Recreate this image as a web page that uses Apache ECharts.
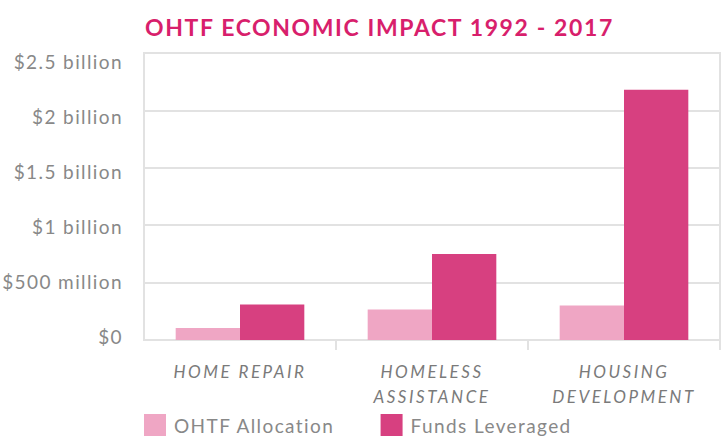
<!DOCTYPE html>
<html>
<head>
<meta charset="utf-8">
<script src="https://cdn.jsdelivr.net/npm/echarts@6/dist/echarts.min.js"></script>
<style>
html,body{margin:0;padding:0;background:#fff;}
#c{width:722px;height:440px;}
#c text{letter-spacing:1.4px;}
#c text[style*="italic"]{letter-spacing:2.5px;}
#c text[style*="bold"]{letter-spacing:1.6px;}
</style>
</head>
<body>
<div id="c"></div>
<script>
const categories = ['HOME REPAIR', 'HOMELESS\nASSISTANCE', 'HOUSING\nDEVELOPMENT'];
const ohtfAllocation = [105e6, 265e6, 300e6];
const fundsLeveraged = [310e6, 750e6, 2180e6];
const yTickValues = [0, 5e8, 1e9, 1.5e9, 2e9, 2.5e9];
const yTickLabels = ['$0', '$500 million', '$1 billion', '$1.5 billion', '$2 billion', '$2.5 billion'];

const FONT = 'Lato';
// per-label vertical nudges (style only)
const yRich = {
  t0: {padding: [0, 0, 8, 0]},
  t1: {padding: [0, 0, 3, 0]},
  t2: {padding: [2, 0, 0, 0]},
  t3: {padding: [7, 0, 0, 0]},
  t4: {padding: [12, 0, 0, 0]},
  t5: {padding: [17, 0, 0, 0]}
};
Object.keys(yRich).forEach(function (k) {
  Object.assign(yRich[k], {color: '#888', fontSize: 19, fontFamily: FONT, align: 'right'});
});

const chart = echarts.init(document.getElementById('c'), null, {renderer: 'svg'});
chart.setOption({
  animation: false,
  title: {
    text: 'OHTF ECONOMIC IMPACT 1992 - 2017',
    left: 145, top: 15, padding: 0,
    textStyle: {color: '#d81f6c', fontSize: 23, fontWeight: 'bold', fontFamily: FONT}
  },
  legend: {
    left: 144, top: 414, padding: 0,
    itemWidth: 22, itemHeight: 22, itemGap: 66,
    icon: 'rect',
    textStyle: {color: '#888', fontSize: 19, fontFamily: FONT, padding: [0, 0, 0, 3]},
    data: ['OHTF Allocation', 'Funds Leveraged']
  },
  grid: {
    left: 144, right: 2, top: 53, bottom: 100,
    show: true, borderColor: '#e2e2e2', borderWidth: 2
  },
  xAxis: {
    type: 'category',
    data: categories,
    axisLine: {show: true, lineStyle: {color: '#e2e2e2', width: 2}},
    axisTick: {show: true, length: 10, lineStyle: {color: '#e2e2e2', width: 2},
      interval: function (i) { return i !== 0; }},
    axisLabel: {color: '#7a7a7a', fontSize: 17, fontStyle: 'italic', fontFamily: FONT,
      lineHeight: 25, margin: 19, interval: 0}
  },
  yAxis: {
    type: 'value', min: 0, max: 2.5e9, interval: 5e8,
    axisLine: {show: false}, axisTick: {show: false},
    splitLine: {lineStyle: {color: '#e2e2e2', width: 2}},
    axisLabel: {color: '#888', fontSize: 19, fontFamily: FONT, margin: 21, rich: yRich,
      formatter: function (v) {
        const i = yTickValues.indexOf(v);
        return i >= 0 ? '{t' + i + '|' + yTickLabels[i] + '}' : '';
      }}
  },
  series: [
    {name: 'OHTF Allocation', type: 'bar', data: ohtfAllocation, barGap: '0%', barCategoryGap: '33%',
      itemStyle: {color: '#efa6c4'}},
    {name: 'Funds Leveraged', type: 'bar', data: fundsLeveraged, barGap: '0%', barCategoryGap: '33%',
      itemStyle: {color: '#d74080'}}
  ]
});
</script>
</body>
</html>
